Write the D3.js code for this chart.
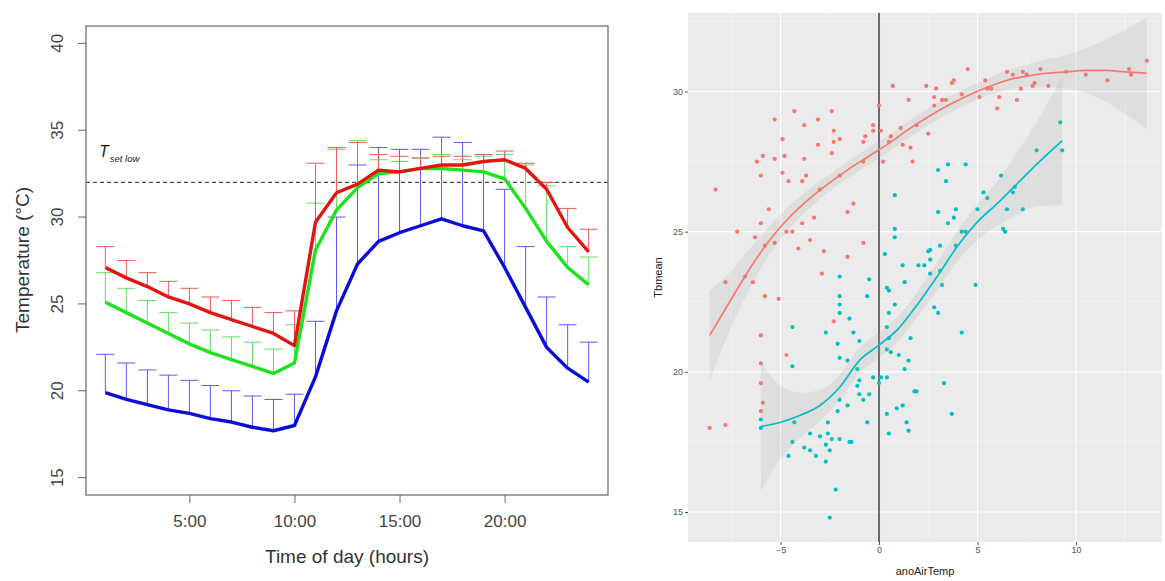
<!DOCTYPE html>
<html>
<head>
<meta charset="utf-8">
<script src="https://cdn.jsdelivr.net/npm/d3@7"></script>
<style>
  body { margin: 0; background: #fff; }
  svg { display: block; }
</style>
</head>
<body>
<div id="chart"></div>
<script>
// ---- left panel: diurnal temperature (means and upper error bars) ----
var hours = [1, 2, 3, 4, 5, 6, 7, 8, 9, 10, 11, 12, 13, 14, 15, 16, 17, 18, 19, 20, 21, 22, 23, 24];
var hourTicks = [5, 10, 15, 20];
var hourLabels = ["5:00", "10:00", "15:00", "20:00"];
var tempTicks = [15, 20, 25, 30, 35, 40];
var tSetLow = 32;

var blueMean = [19.9, 19.5, 19.2, 18.9, 18.7, 18.4, 18.2, 17.9, 17.7, 18.0, 20.8, 24.6, 27.3, 28.6, 29.1, 29.5, 29.9, 29.5, 29.2, 27.1, 24.8, 22.5, 21.3, 20.5];
var blueTop = [22.1, 21.6, 21.2, 20.9, 20.6, 20.3, 20.0, 19.7, 19.5, 19.8, 24.0, 30.0, 33.0, 34.0, 33.9, 33.9, 34.6, 34.3, 33.6, 31.6, 28.3, 25.4, 23.8, 22.8];
var greenMean = [25.1, 24.5, 23.9, 23.3, 22.7, 22.2, 21.8, 21.4, 21.0, 21.6, 28.1, 30.4, 31.7, 32.5, 32.6, 32.8, 32.8, 32.7, 32.6, 32.2, 30.5, 28.6, 27.1, 26.1];
var greenTop = [26.8, 25.9, 25.2, 24.5, 23.9, 23.5, 23.1, 22.8, 22.4, 23.8, 30.8, 33.9, 34.4, 33.3, 33.2, 33.4, 33.6, 33.3, 33.5, 33.6, 33.0, 31.8, 28.3, 27.7];
var redMean = [27.1, 26.5, 26.0, 25.4, 25.0, 24.5, 24.1, 23.7, 23.3, 22.6, 29.7, 31.4, 31.9, 32.7, 32.6, 32.8, 33.0, 33.0, 33.2, 33.3, 32.8, 31.6, 29.4, 28.0];
var redTop = [28.3, 27.5, 26.8, 26.3, 25.9, 25.4, 25.2, 24.8, 24.5, 24.6, 33.1, 34.0, 34.3, 33.6, 33.5, 33.4, 33.5, 33.5, 33.6, 33.8, 33.1, 32.0, 30.5, 29.3];

// ---- right panel: Tbmean against anoAirTemp ----
var redX = [-8.3, -7.2, -7.8, -6.8, -6.4, -6.3, -6.0, -5.8, -5.6, -5.3, -4.7, -4.4, -3.9, -4.1, -3.5, -3.3, -3.0, -2.8, -2.9, -3.7,
  -3.9, -3.8, -4.6, -4.9, -5.3, -6.0, -6.2, -5.9, -4.8, -4.9, -5.3, -4.3, -3.8, -3.1, -3.1, -2.4, -2.3, -2.3, -2.0, -2.4,
  -2.0, -1.6, -1.3, -1.6, -0.8, -0.8, -0.8, -0.7, -0.3, -0.3, 0.0, 0.1, 0.2, 0.5, 0.7, 0.6, 1.1, 1.2, 1.6, 1.5,
  1.7, 1.9, 2.4, 2.5, 2.8, 2.9, 3.2, 2.8, 3.4, 3.7, 3.8, 4.2, 4.5, 5.1, 5.4, 5.5, 5.7, 6.0, 6.1, 6.5,
  6.8, 7.0, 7.2, 7.3, 7.5, 7.8, 7.9, 8.2, 8.6, 9.5, 10.5, 11.6, 12.7, 12.8, 13.6,
  -5.8, -5.1, -6.0, -6.0, -6.0, -5.9, -6.0, -4.7, -8.6, -7.8, -2.3];
var redY = [26.5, 25.0, 23.2, 23.4, 23.2, 24.8, 25.3, 24.5, 25.8, 24.6, 25.0, 25.0, 25.3, 24.4, 24.7, 25.5, 26.5, 24.3, 23.5, 27.0,
  26.8, 27.6, 26.8, 27.1, 27.6, 27.0, 27.5, 27.7, 27.7, 28.3, 29.0, 29.3, 28.8, 29.0, 28.1, 29.3, 28.6, 28.2, 28.3, 27.8,
  27.0, 25.7, 26.0, 24.1, 24.6, 27.5, 28.2, 28.4, 28.8, 28.6, 29.5, 28.6, 27.5, 28.2, 30.2, 28.4, 28.7, 28.1, 28.0, 29.7,
  27.5, 28.8, 30.2, 28.5, 29.5, 30.1, 29.7, 29.8, 29.7, 30.3, 30.4, 29.9, 30.8, 29.8, 30.4, 30.1, 30.1, 29.4, 29.8, 30.7,
  30.6, 29.7, 30.1, 30.7, 30.6, 30.2, 30.3, 30.8, 30.2, 30.7, 30.6, 30.4, 30.8, 30.6, 31.1,
  22.7, 22.6, 21.3, 20.3, 19.6, 18.9, 18.6, 20.6, 18.0, 18.1, 21.8];

var tealX = [0.8, 3.0, 3.5, 3.4, 4.4, 3.0, 3.8, 3.9, 4.2, 3.9, 5.0, 5.3, 5.5, 6.2, 6.5, 6.8, 6.9, 7.3, 6.3, 8.0,
  9.2, 9.3, 2.5, 2.6, 2.3, 3.1, 3.2, 2.0, 1.2, 0.8, 0.8, 0.3, 0.4, -0.5, -0.6, -2.0, -2.0, 4.9, 3.5, 4.4,
  6.4, -2.0, -2.0, -1.5, -1.3, -1.0, 0.5, 0.8, 0.4, 0.5, 1.6, 0.4, 1.0, 1.5, 1.3, -0.3, 0.1, 0.4, 0.0, -1.1,
  -1.0, -1.1, -1.0, -0.8, -0.5, -0.6, -1.6, -2.0, -2.7, -2.1, -4.4, -4.4, -6.0, -4.3, -2.0, -1.6, -2.1, -2.6, -3.5, -3.0,
  -2.6, -2.4, -2.0, -2.7, -2.5, -1.5, -4.4, -4.6, -3.8, -3.5, -3.2, -2.7, -2.2, -2.5, 0.4, 0.5, 0.9, 1.2, 1.4, 1.5,
  1.8, 3.3, 3.7, 4.2, 2.8, 3.0, -6.0, 0.5, 1.3, 2.6, 2.6, 3.1, 0.6, 1.9, -1.4];
var tealY = [26.3, 27.2, 27.4, 26.8, 27.4, 25.7, 25.5, 25.8, 25.0, 24.5, 25.8, 26.4, 26.2, 27.0, 25.8, 26.4, 26.6, 25.8, 25.1, 27.9,
  28.9, 27.9, 24.3, 24.0, 23.8, 23.6, 23.1, 23.8, 23.8, 25.1, 24.8, 24.2, 23.0, 23.3, 22.7, 23.4, 22.7, 23.1, 25.3, 25.0,
  25.0, 22.4, 22.1, 21.9, 21.4, 21.1, 22.1, 22.4, 21.6, 21.2, 21.2, 20.8, 20.6, 20.4, 20.1, 19.8, 19.8, 19.8, 19.6, 20.1,
  19.7, 19.5, 19.2, 19.0, 19.2, 18.2, 20.4, 20.5, 21.4, 21.0, 21.6, 20.2, 18.3, 18.2, 19.0, 18.8, 18.6, 18.2, 17.8, 17.7,
  17.8, 17.6, 17.6, 17.4, 17.2, 17.5, 17.5, 17.0, 17.3, 17.2, 17.0, 16.8, 15.8, 14.8, 18.5, 17.8, 18.7, 18.8, 18.2, 17.9,
  19.3, 19.6, 18.5, 21.4, 22.3, 22.1, 18.0, 22.9, 23.2, 24.35, 23.5, 24.5, 20.7, 19.3, 17.5];

// smoother curves and their bands
var redFitX = [-8.6, -7.5, -6.5, -5.5, -4.5, -3.5, -2.5, -1.5, -0.5, 0.5, 1.5, 2.5, 3.5, 4.5, 5.5, 6.5, 7.5, 8.5, 9.5, 10.5, 11.5, 12.5, 13.6];
var redFitY = [21.3, 22.6, 23.75, 24.75, 25.55, 26.2, 26.75, 27.25, 27.7, 28.15, 28.65, 29.1, 29.5, 29.85, 30.15, 30.4, 30.55, 30.65, 30.7, 30.75, 30.75, 30.7, 30.65];
var redFitLo = [19.7, 21.6, 23.05, 24.25, 25.15, 25.85, 26.45, 26.95, 27.4, 27.85, 28.35, 28.8, 29.2, 29.55, 29.85, 30.05, 30.15, 30.15, 30.1, 29.95, 29.65, 29.2, 28.65];
var redFitHi = [22.9, 23.6, 24.45, 25.25, 25.95, 26.55, 27.05, 27.55, 28.0, 28.45, 28.95, 29.4, 29.8, 30.15, 30.45, 30.75, 30.95, 31.15, 31.3, 31.55, 31.85, 32.2, 32.65];

var tealFitX = [-6.0, -5.0, -4.0, -3.0, -2.0, -1.0, 0, 1.0, 2.0, 3.0, 4.0, 5.0, 6.0, 7.0, 8.0, 9.3];
var tealFitY = [18.05, 18.2, 18.45, 18.8, 19.45, 20.4, 20.95, 21.55, 22.45, 23.45, 24.5, 25.35, 26.0, 26.7, 27.4, 28.25];
var tealFitLo = [15.75, 16.9, 17.65, 18.25, 19.0, 19.95, 20.5, 21.1, 22.0, 22.95, 23.95, 24.7, 25.2, 25.6, 25.9, 25.95];
var tealFitHi = [20.35, 19.5, 19.25, 19.35, 19.9, 20.85, 21.4, 22.0, 22.9, 23.95, 25.05, 26.0, 26.8, 27.8, 28.9, 30.55];

var anoTicks = [-5, 0, 5, 10];
var anoMinor = [-7.5, -2.5, 2.5, 7.5, 12.5];
var tbTicks = [15, 20, 25, 30];
var tbMinor = [17.5, 22.5, 27.5, 32.5];

var W = 1165, H = 581;
var svg = d3.select("#chart").append("svg")
    .attr("width", W)
    .attr("height", H)
    .style("font-family", "'Liberation Sans', Arial, sans-serif");

// ================= left panel =================
var x1 = d3.scaleLinear().domain([0.08, 24.92]).range([86, 608]);
var y1 = d3.scaleLinear().domain([14, 41]).range([495, 26]);
var left = svg.append("g");

// dashed reference line
left.append("line")
    .attr("x1", x1.range()[0]).attr("x2", x1.range()[1])
    .attr("y1", y1(tSetLow)).attr("y2", y1(tSetLow))
    .attr("stroke", "#222").attr("stroke-width", 1)
    .attr("stroke-dasharray", "4,3");

var series = [
    { mean: blueMean, top: blueTop, line: "#0c0cd8", bar: "#5a5aec" },
    { mean: greenMean, top: greenTop, line: "#1ee21e", bar: "#62de62" },
    { mean: redMean, top: redTop, line: "#e41410", bar: "#ee5a56" }
];

// error bars first, lines on top
series.forEach(function(s) {
    var g = left.append("g").attr("stroke", s.bar).attr("stroke-width", 1);
    g.selectAll(".stem").data(hours).enter().append("line")
        .attr("x1", function(d) { return x1(d); })
        .attr("x2", function(d) { return x1(d); })
        .attr("y1", function(d, i) { return y1(s.mean[i]); })
        .attr("y2", function(d, i) { return y1(s.top[i]); });
    g.selectAll(".cap").data(hours).enter().append("line")
        .attr("x1", function(d) { return x1(d) - 9; })
        .attr("x2", function(d) { return x1(d) + 9; })
        .attr("y1", function(d, i) { return y1(s.top[i]); })
        .attr("y2", function(d, i) { return y1(s.top[i]); });
});

series.forEach(function(s) {
    var line = d3.line()
        .x(function(d) { return x1(d); })
        .y(function(d, i) { return y1(s.mean[i]); });
    left.append("path").datum(hours)
        .attr("d", line)
        .attr("fill", "none")
        .attr("stroke", s.line)
        .attr("stroke-width", 3.4)
        .attr("stroke-linejoin", "round");
});

// box
left.append("rect")
    .attr("x", 86).attr("y", 26).attr("width", 522).attr("height", 469)
    .attr("fill", "none").attr("stroke", "#666").attr("stroke-width", 1.2);

// y axis
var yAx = left.append("g").attr("transform", "translate(86,0)")
    .call(d3.axisLeft(y1).tickValues(tempTicks).tickSize(8).tickFormat(d3.format("d")));
yAx.select(".domain").remove();
yAx.selectAll("line").attr("stroke", "#666");
yAx.selectAll("text")
    .attr("font-size", 17).attr("fill", "#444")
    .attr("transform", function(d) { return "rotate(-90," + (-29) + "," + y1(d) + ")"; })
    .attr("x", -29).attr("y", function(d) { return y1(d); })
    .attr("dy", "0.35em").attr("text-anchor", "middle");
yAx.selectAll(".tick").attr("transform", null);
yAx.selectAll(".tick line").attr("y1", function(d) { return y1(d); }).attr("y2", function(d) { return y1(d); });

// x axis
var xAx = left.append("g").attr("transform", "translate(0,495)")
    .call(d3.axisBottom(x1).tickValues(hourTicks).tickSize(8)
        .tickFormat(function(d, i) { return hourLabels[i]; }));
xAx.select(".domain").remove();
xAx.selectAll("line").attr("stroke", "#666");
xAx.selectAll("text").attr("font-size", 17).attr("fill", "#444").attr("dy", "1.25em");

left.append("text")
    .attr("x", 347).attr("y", 563)
    .attr("text-anchor", "middle").attr("font-size", 19).attr("fill", "#333")
    .text("Time of day (hours)");
left.append("text")
    .attr("transform", "translate(29,260) rotate(-90)")
    .attr("text-anchor", "middle").attr("font-size", 19).attr("fill", "#333")
    .text("Temperature (°C)");

var tlab = left.append("text")
    .attr("x", 99).attr("y", 157)
    .attr("font-style", "italic").attr("fill", "#222");
tlab.append("tspan").attr("font-size", 16).text("T");
tlab.append("tspan").attr("font-size", 9.5).attr("dx", 1).attr("dy", 5).text("set low");

// ================= right panel =================
var px0 = 688, px1 = 1162, py0 = 13, py1 = 542;
var x2 = d3.scaleLinear().domain([-9.7, 14.37]).range([px0, px1]);
var y2 = d3.scaleLinear().domain([13.93, 32.8]).range([py1, py0]);
var right = svg.append("g");

right.append("rect")
    .attr("x", px0).attr("y", py0).attr("width", px1 - px0).attr("height", py1 - py0)
    .attr("fill", "#ebebeb");

// grid
right.selectAll(".gxm").data(anoMinor).enter().append("line")
    .attr("x1", function(d) { return x2(d); }).attr("x2", function(d) { return x2(d); })
    .attr("y1", py0).attr("y2", py1).attr("stroke", "#f6f6f6").attr("stroke-width", 0.6);
right.selectAll(".gym").data(tbMinor).enter().append("line")
    .attr("y1", function(d) { return y2(d); }).attr("y2", function(d) { return y2(d); })
    .attr("x1", px0).attr("x2", px1).attr("stroke", "#f6f6f6").attr("stroke-width", 0.6);
right.selectAll(".gx").data(anoTicks).enter().append("line")
    .attr("x1", function(d) { return x2(d); }).attr("x2", function(d) { return x2(d); })
    .attr("y1", py0).attr("y2", py1).attr("stroke", "#fff").attr("stroke-width", 1.1);
right.selectAll(".gy").data(tbTicks).enter().append("line")
    .attr("y1", function(d) { return y2(d); }).attr("y2", function(d) { return y2(d); })
    .attr("x1", px0).attr("x2", px1).attr("stroke", "#fff").attr("stroke-width", 1.1);

// zero line
right.append("line")
    .attr("x1", x2(0)).attr("x2", x2(0)).attr("y1", py0).attr("y2", py1)
    .attr("stroke", "#6a6a6a").attr("stroke-width", 2);

var groups = [
    { xs: redX, ys: redY, fx: redFitX, fy: redFitY, lo: redFitLo, hi: redFitHi, col: "#f8766d" },
    { xs: tealX, ys: tealY, fx: tealFitX, fy: tealFitY, lo: tealFitLo, hi: tealFitHi, col: "#00bfc4" }
];

groups.forEach(function(g) {
    right.selectAll(null).data(g.xs).enter().append("circle")
        .attr("cx", function(d) { return x2(d); })
        .attr("cy", function(d, i) { return y2(g.ys[i]); })
        .attr("r", 2.1)
        .attr("fill", g.col);
});

groups.forEach(function(g) {
    var band = d3.area()
        .x(function(d) { return x2(d); })
        .y0(function(d, i) { return y2(g.lo[i]); })
        .y1(function(d, i) { return y2(g.hi[i]); })
        .curve(d3.curveMonotoneX);
    right.append("path").datum(g.fx)
        .attr("d", band)
        .attr("fill", "#999").attr("fill-opacity", 0.16);
    var fit = d3.line()
        .x(function(d) { return x2(d); })
        .y(function(d, i) { return y2(g.fy[i]); })
        .curve(d3.curveMonotoneX);
    right.append("path").datum(g.fx)
        .attr("d", fit)
        .attr("fill", "none").attr("stroke", g.col).attr("stroke-width", 1.7);
});

// axes
var ya2 = right.append("g").attr("transform", "translate(" + px0 + ",0)")
    .call(d3.axisLeft(y2).tickValues(tbTicks).tickSize(3).tickPadding(2));
ya2.select(".domain").remove();
ya2.selectAll("line").attr("stroke", "#555");
ya2.selectAll("text").attr("font-size", 9).attr("fill", "#555");

var xa2 = right.append("g").attr("transform", "translate(0," + py1 + ")")
    .call(d3.axisBottom(x2).tickValues(anoTicks).tickSize(3).tickPadding(2));
xa2.select(".domain").remove();
xa2.selectAll("line").attr("stroke", "#555");
xa2.selectAll("text").attr("font-size", 9).attr("fill", "#555");

right.append("text")
    .attr("x", (px0 + px1) / 2).attr("y", 575)
    .attr("text-anchor", "middle").attr("font-size", 11).attr("fill", "#222")
    .text("anoAirTemp");
right.append("text")
    .attr("transform", "translate(662," + ((py0 + py1) / 2) + ") rotate(-90)")
    .attr("text-anchor", "middle").attr("font-size", 11).attr("fill", "#222")
    .text("Tbmean");
</script>
</body>
</html>
